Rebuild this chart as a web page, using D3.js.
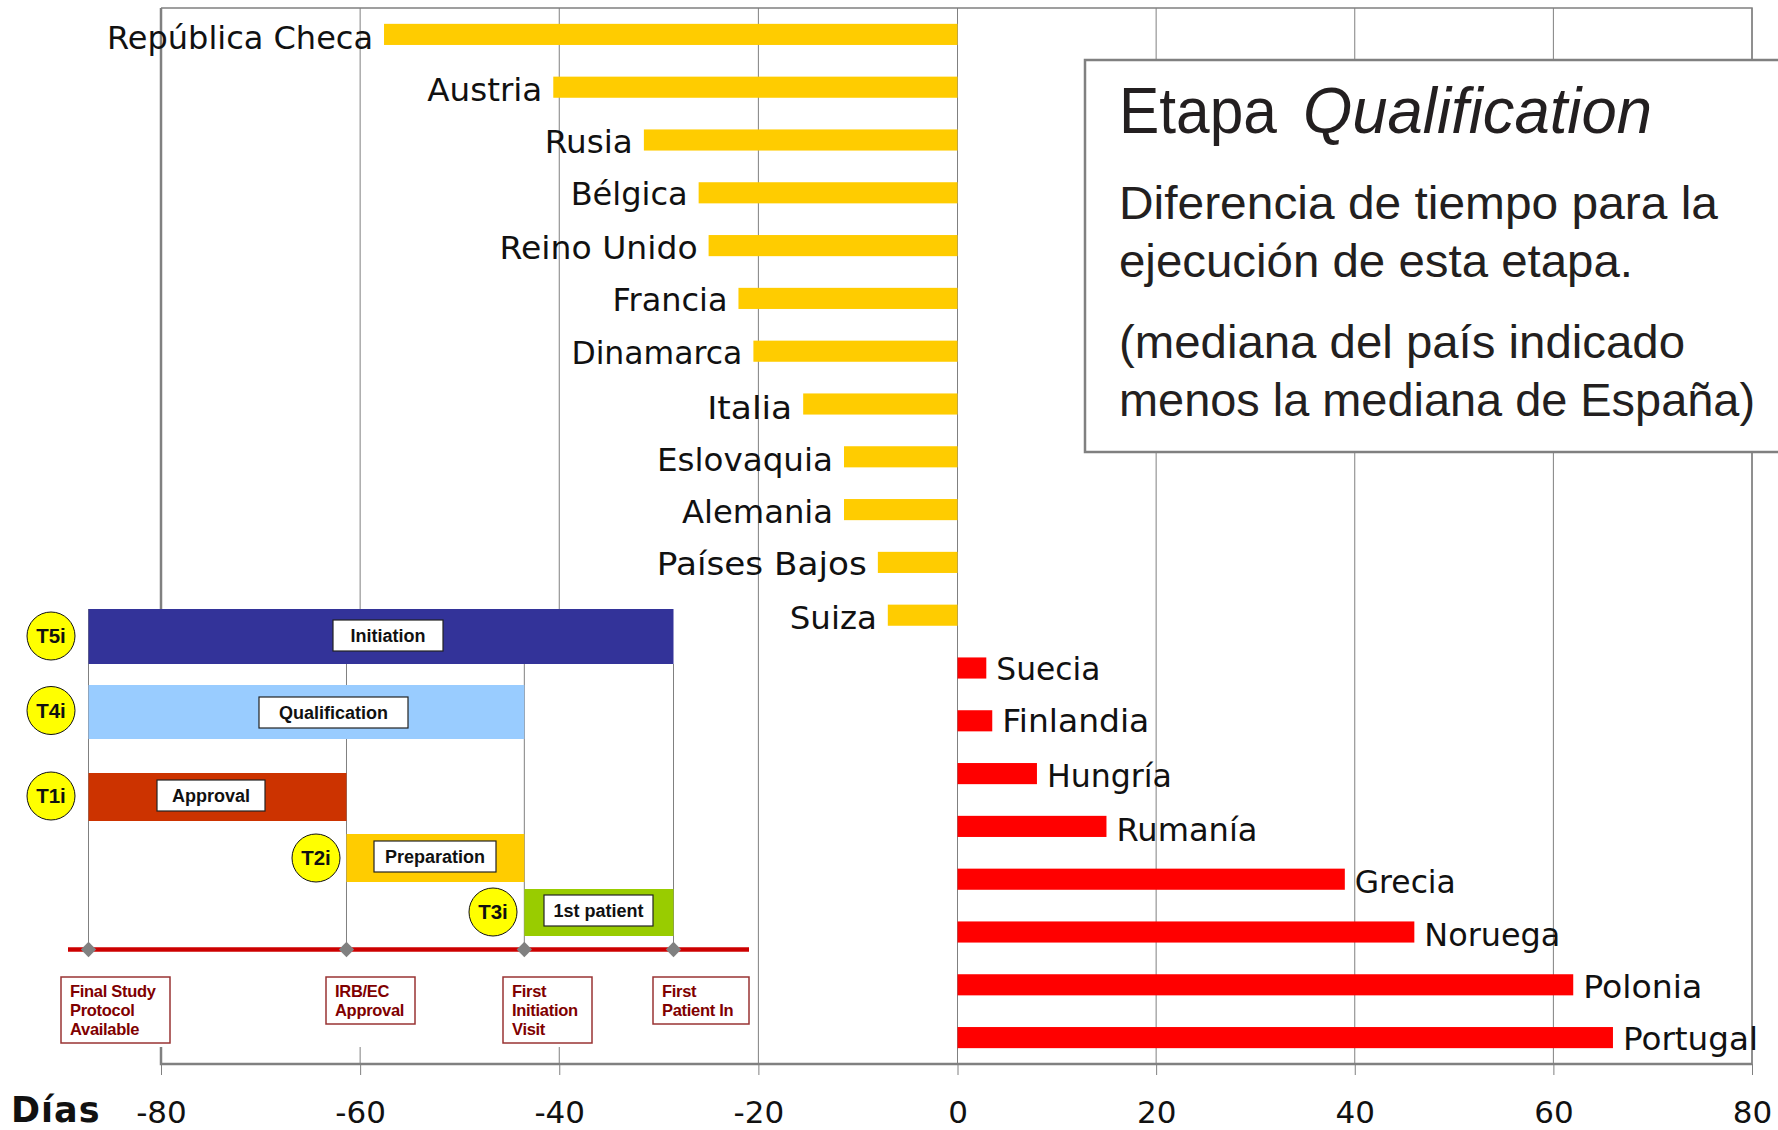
<!DOCTYPE html>
<html>
<head>
<meta charset="utf-8">
<style>
  html, body { margin: 0; padding: 0; background: #fff; }
  svg { display: block; }
  text { font-family: "DejaVu Sans", sans-serif; }
</style>
</head>
<body>
<svg></svg>
<script src="https://cdn.jsdelivr.net/npm/d3@7"></script>
<script>
const COUNTRIES = ['República Checa', 'Austria', 'Rusia', 'Bélgica', 'Reino Unido', 'Francia', 'Dinamarca',
    'Italia', 'Eslovaquia', 'Alemania', 'Países Bajos', 'Suiza', 'Suecia', 'Finlandia', 'Hungría',
    'Rumanía', 'Grecia', 'Noruega', 'Polonia', 'Portugal'];
const DAYS = [-57.6, -40.6, -31.5, -26, -25, -22, -20.5, -15.5, -11.4, -11.4, -8, -7,
    2.9, 3.5, 8, 15, 39, 46, 62, 66];
const X_TICKS = [-80, -60, -40, -20, 0, 20, 40, 60, 80];
const AXIS_TITLE = 'Días';

const NOTE_LINES = ['Diferencia de tiempo para la', 'ejecución de esta etapa.',
    '(mediana del país indicado', 'menos la mediana de España)'];

// inset timeline, position of each milestone in percent of the whole span
const MILESTONES = [0, 44.1, 74.5, 100];
const MILESTONE_LABELS = [
    ['Final Study', 'Protocol', 'Available'],
    ['IRB/EC', 'Approval'],
    ['First', 'Initiation', 'Visit'],
    ['First', 'Patient In'],
];
const PHASES = ['Initiation', 'Qualification', 'Approval', 'Preparation', '1st patient'];
const PHASE_CODES = ['T5i', 'T4i', 'T1i', 'T2i', 'T3i'];
const PHASE_START = [0, 0, 0, 1, 2];
const PHASE_END = [3, 2, 1, 2, 3];

const WIDTH = 1778;
const HEIGHT = 1130;
const PLOT = {left: 161, right: 1752, top: 8, bottom: 1064};
const GRAY = '#808080';

const svg = d3.select('svg').attr('width', WIDTH).attr('height', HEIGHT);

const xScale = d3.scaleLinear().domain([-80, 0, 80]).range([PLOT.left, 957.5, PLOT.right]);
const yScale = d3.scaleBand()
    .domain(COUNTRIES)
    .range([PLOT.top, PLOT.bottom])
    .paddingInner(0.6)
    .paddingOuter(0.3);

// gridlines first, everything else sits on top
svg.append('g')
    .selectAll('line')
    .data(X_TICKS)
    .enter()
    .append('line')
    .attr('x1', d => xScale(d))
    .attr('x2', d => xScale(d))
    .attr('y1', PLOT.top)
    .attr('y2', PLOT.bottom)
    .attr('stroke', GRAY)
    .attr('stroke-width', 1);

// frame, heavier on the left and the bottom
const frame = svg.append('g').attr('stroke', GRAY).attr('fill', 'none');
frame.append('path')
    .attr('d', `M${PLOT.left},${PLOT.top}H${PLOT.right}V${PLOT.bottom}`)
    .attr('stroke-width', 1.5);
frame.append('path')
    .attr('d', `M${PLOT.left},${PLOT.top}V${PLOT.bottom}H${PLOT.right}`)
    .attr('stroke-width', 2.5);

const xAxis = svg.append('g')
    .attr('transform', `translate(0, ${PLOT.bottom})`)
    .call(d3.axisBottom(xScale).tickValues(X_TICKS).tickSize(11).tickPadding(26).tickFormat(d => d));
xAxis.select('.domain').remove();
xAxis.selectAll('line').attr('stroke', GRAY);
xAxis.selectAll('text')
    .attr('font-size', 31)
    .attr('fill', '#111')
    .style('font-family', '"DejaVu Sans", sans-serif');

svg.append('text')
    .text(AXIS_TITLE)
    .attr('x', 11)
    .attr('y', 1122)
    .attr('font-size', 35)
    .attr('font-weight', 'bold')
    .attr('letter-spacing', 1)
    .attr('fill', '#111');

const rows = COUNTRIES.map((country, i) => ({country, value: DAYS[i]}));

svg.append('g')
    .selectAll('rect')
    .data(rows)
    .enter()
    .append('rect')
    .attr('x', d => xScale(Math.min(0, d.value)))
    .attr('y', d => yScale(d.country))
    .attr('width', d => Math.abs(xScale(d.value) - xScale(0)))
    .attr('height', yScale.bandwidth())
    .attr('fill', d => d.value < 0 ? '#ffcc00' : '#ff0000');

// the original labels were placed by hand, so each has its own width and drop
const LABEL_WIDTHS = [266, 115, 88, 117, 198, 115, 171, 85, 176, 151, 210, 87, 104, 147, 125, 141, 101, 136, 119, 135];
const LABEL_DROPS = [15, 14, 13, 12, 13, 13, 13, 15, 14, 13, 13, 14, 12, 11, 13, 15, 14, 14, 13, 12];

svg.append('g')
    .selectAll('text')
    .data(rows)
    .enter()
    .append('text')
    .text(d => d.country)
    .attr('x', d => xScale(d.value) + (d.value < 0 ? -11 : 10))
    .attr('y', (d, i) => yScale(d.country) + yScale.bandwidth() / 2 + LABEL_DROPS[i])
    .attr('text-anchor', d => d.value < 0 ? 'end' : 'start')
    .attr('font-size', 32)
    .attr('textLength', (d, i) => LABEL_WIDTHS[i])
    .attr('lengthAdjust', 'spacingAndGlyphs')
    .attr('fill', '#111');

// note box, the text is squeezed to the widths of the original lettering
svg.append('rect')
    .attr('x', 1085)
    .attr('y', 60)
    .attr('width', 720)
    .attr('height', 392)
    .attr('fill', '#fff')
    .attr('stroke', GRAY)
    .attr('stroke-width', 2.5);

const NOTE_COLOR = '#231f20';
const NOTE_FONT = '"Liberation Sans", sans-serif';
const noteBaselines = [219, 277, 358, 416];
const noteWidths = [599, 514, 566, 636];

function noteText(str, x, y, size, length) {
    return svg.append('text')
        .text(str)
        .attr('x', x)
        .attr('y', y)
        .attr('font-size', size)
        .attr('fill', NOTE_COLOR)
        .style('font-family', NOTE_FONT)
        .attr('textLength', length)
        .attr('lengthAdjust', 'spacingAndGlyphs');
}

noteText('Etapa', 1119, 133, 65, 158);
noteText('Qualification', 1303, 133, 65, 349).attr('font-style', 'italic');
NOTE_LINES.forEach((line, i) => noteText(line, 1119, noteBaselines[i], 47, noteWidths[i]));

// inset timeline
const inset = svg.append('g');
const INSET_FONT = '"Liberation Sans", Arial, sans-serif';
const insetX = d3.scaleLinear().domain([0, 100]).range([88.5, 673.5]);
const milestoneX = i => insetX(MILESTONES[i]);
const TIMELINE_Y = 949.5;

inset.append('rect')
    .attr('x', 0)
    .attr('y', 609)
    .attr('width', 750)
    .attr('height', 438)
    .attr('fill', '#fff');

const PHASE_COLORS = ['#333399', '#99ccff', '#cc3300', '#ffcc00', '#99cc00'];
const PHASE_TOPS = [609, 685, 773, 834, 889];
const PHASE_HEIGHTS = [55, 54, 48, 48, 47];
const TAG_LEFTS = [333, 259, 157, 374, 544];
const TAG_WIDTHS = [110, 149, 108, 122, 109];
const TAG_TOPS = [620, 697, 780, 841, 895];
const CODE_X = [51, 51, 51, 316, 493];
const CODE_Y = [636, 710.5, 796, 858, 912];

inset.append('g')
    .selectAll('line')
    .data(MILESTONES)
    .enter()
    .append('line')
    .attr('x1', d => insetX(d))
    .attr('x2', d => insetX(d))
    .attr('y1', (d, i) => i === 0 ? 609 : 664)
    .attr('y2', TIMELINE_Y)
    .attr('stroke', GRAY)
    .attr('stroke-width', 1);

inset.append('g')
    .selectAll('rect')
    .data(PHASES)
    .enter()
    .append('rect')
    .attr('x', (d, i) => milestoneX(PHASE_START[i]))
    .attr('y', (d, i) => PHASE_TOPS[i])
    .attr('width', (d, i) => milestoneX(PHASE_END[i]) - milestoneX(PHASE_START[i]))
    .attr('height', (d, i) => PHASE_HEIGHTS[i])
    .attr('fill', (d, i) => PHASE_COLORS[i]);

inset.append('g')
    .selectAll('rect')
    .data(PHASES)
    .enter()
    .append('rect')
    .attr('x', (d, i) => TAG_LEFTS[i])
    .attr('y', (d, i) => TAG_TOPS[i])
    .attr('width', (d, i) => TAG_WIDTHS[i])
    .attr('height', 31)
    .attr('fill', '#fff')
    .attr('stroke', '#222')
    .attr('stroke-width', 1.2);

inset.append('g')
    .selectAll('text')
    .data(PHASES)
    .enter()
    .append('text')
    .text(d => d)
    .attr('x', (d, i) => TAG_LEFTS[i] + TAG_WIDTHS[i] / 2)
    .attr('y', (d, i) => TAG_TOPS[i] + 21.5)
    .attr('text-anchor', 'middle')
    .attr('font-size', 18)
    .attr('font-weight', 'bold')
    .attr('fill', '#111')
    .style('font-family', INSET_FONT);

inset.append('g')
    .selectAll('circle')
    .data(PHASE_CODES)
    .enter()
    .append('circle')
    .attr('cx', (d, i) => CODE_X[i])
    .attr('cy', (d, i) => CODE_Y[i])
    .attr('r', 24)
    .attr('fill', '#ffff00')
    .attr('stroke', '#111')
    .attr('stroke-width', 1);

inset.append('g')
    .selectAll('text')
    .data(PHASE_CODES)
    .enter()
    .append('text')
    .text(d => d)
    .attr('x', (d, i) => CODE_X[i])
    .attr('y', (d, i) => CODE_Y[i] + 7)
    .attr('text-anchor', 'middle')
    .attr('font-size', 20.5)
    .attr('font-weight', 'bold')
    .attr('fill', '#111')
    .style('font-family', INSET_FONT);

inset.append('line')
    .attr('x1', 68)
    .attr('x2', 749)
    .attr('y1', TIMELINE_Y)
    .attr('y2', TIMELINE_Y)
    .attr('stroke', '#cc0000')
    .attr('stroke-width', 4.5);

inset.append('g')
    .selectAll('path')
    .data(MILESTONES)
    .enter()
    .append('path')
    .attr('d', d3.symbol(d3.symbolDiamond2, 150))
    .attr('transform', d => `translate(${insetX(d)}, ${TIMELINE_Y})`)
    .attr('fill', GRAY);

const BOX_LEFTS = [61, 326, 503, 653];
const BOX_WIDTHS = [109, 89, 89, 96];
const BOX_TOP = 977;
const BOX_LINE = 19;

const boxes = inset.append('g')
    .selectAll('g')
    .data(MILESTONE_LABELS)
    .enter()
    .append('g')
    .attr('transform', (d, i) => `translate(${BOX_LEFTS[i]}, ${BOX_TOP})`);

boxes.append('rect')
    .attr('width', (d, i) => BOX_WIDTHS[i])
    .attr('height', d => d.length === 3 ? 66 : 47)
    .attr('fill', '#fff')
    .attr('stroke', '#993333')
    .attr('stroke-width', 1.5);

boxes.selectAll('text')
    .data(d => d)
    .enter()
    .append('text')
    .text(d => d)
    .attr('x', 9)
    .attr('y', (d, i) => 20 + i * BOX_LINE)
    .attr('font-size', 16.5)
    .attr('font-weight', 'bold')
    .attr('letter-spacing', -0.3)
    .attr('fill', '#800000')
    .style('font-family', INSET_FONT);
</script>
</body>
</html>
